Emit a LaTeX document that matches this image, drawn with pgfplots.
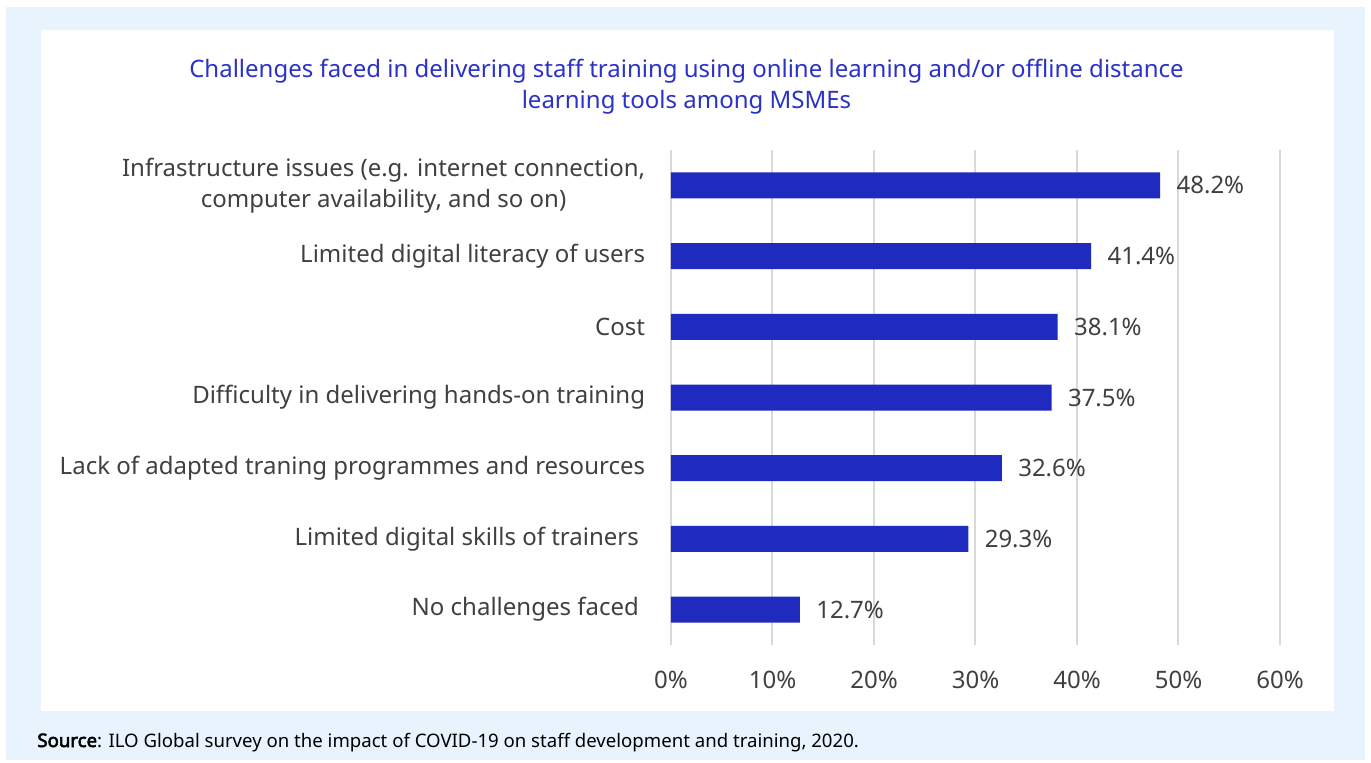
\documentclass[border=0pt]{standalone}
\usepackage{fontspec}
\setmainfont{Noto Sans}
\newfontfamily\fakebold[FakeBold=3]{Noto Sans}
\usepackage{pgfplots}
\pgfplotsset{compat=1.18}
\definecolor{bgblue}{HTML}{E8F3FD}
\definecolor{barblue}{HTML}{1F2BBE}
\definecolor{titleblue}{HTML}{2B32C8}
\definecolor{txt}{HTML}{404040}
\definecolor{gridc}{HTML}{D9D9D9}
\begin{document}
\begin{tikzpicture}[x=1pt,y=1pt]
\fill[white] (0,0) rectangle (685.5,381);
\fill[bgblue] (3,1) rectangle (682.5,377.5);
\fill[white] (20.5,25.5) rectangle (667,366);
\node[align=center, text=titleblue, font=\fontsize{12}{15.5}\selectfont] at (343.25,337.5)
  {Challenges faced in delivering staff training using online learning and/or offline distance\\learning tools among MSMEs};
\node[anchor=base west, inner sep=0pt, text=black, font=\fontsize{9.3}{10}\selectfont] at (18.5,7.5)
  {{\fakebold Source}: ILO Global survey on the impact of COVID-19 on staff development and training, 2020.};
\begin{axis}[
  at={(335.5pt,58.5pt)}, anchor=south west,
  scale only axis, width=304.5pt, height=247.5pt,
  xmin=0, xmax=60, ymin=-0.5, ymax=6.5,
  xbar, bar width=13pt,
  axis line style={draw=none}, tick style={draw=none},
  /pgf/number format/assume math mode=true,
  xtick={0,10,...,60},
  xticklabel={\pgfmathprintnumber{\tick}\%},
  xmajorgrids, grid style={gridc, line width=1pt},
  ytick={0,...,6},
  yticklabels={{No challenges faced~},{Limited digital skills of trainers~},{Lack of adapted traning programmes and resources},{Difficulty in delivering hands-on training},{Cost},{Limited digital literacy of users},{\begin{tabular}{@{}c@{}}Infrastructure issues (e.g. internet connection,\\computer availability, and so on)\end{tabular}}},
  yticklabel style={align=right, inner sep=0pt, xshift=-8.5pt, text=txt, font=\fontsize{12}{15.5}\selectfont},
  xticklabel style={anchor=base, inner sep=0pt, yshift=-21.5pt, text=txt, font=\fontsize{12}{14}\selectfont},
  point meta=x,
  nodes near coords={\pgfmathprintnumber[fixed,precision=1,fixed zerofill]{\pgfplotspointmeta}\%},
  nodes near coords style={anchor=west, inner sep=0pt, xshift=8pt, text=txt, font=\fontsize{12}{14}\selectfont},
]
\addplot[fill=barblue, draw=none] coordinates {
(12.7,0) (29.3,1) (32.6,2) (37.5,3) (38.1,4) (41.4,5) (48.2,6)
};
\end{axis}
\end{tikzpicture}
\end{document}
